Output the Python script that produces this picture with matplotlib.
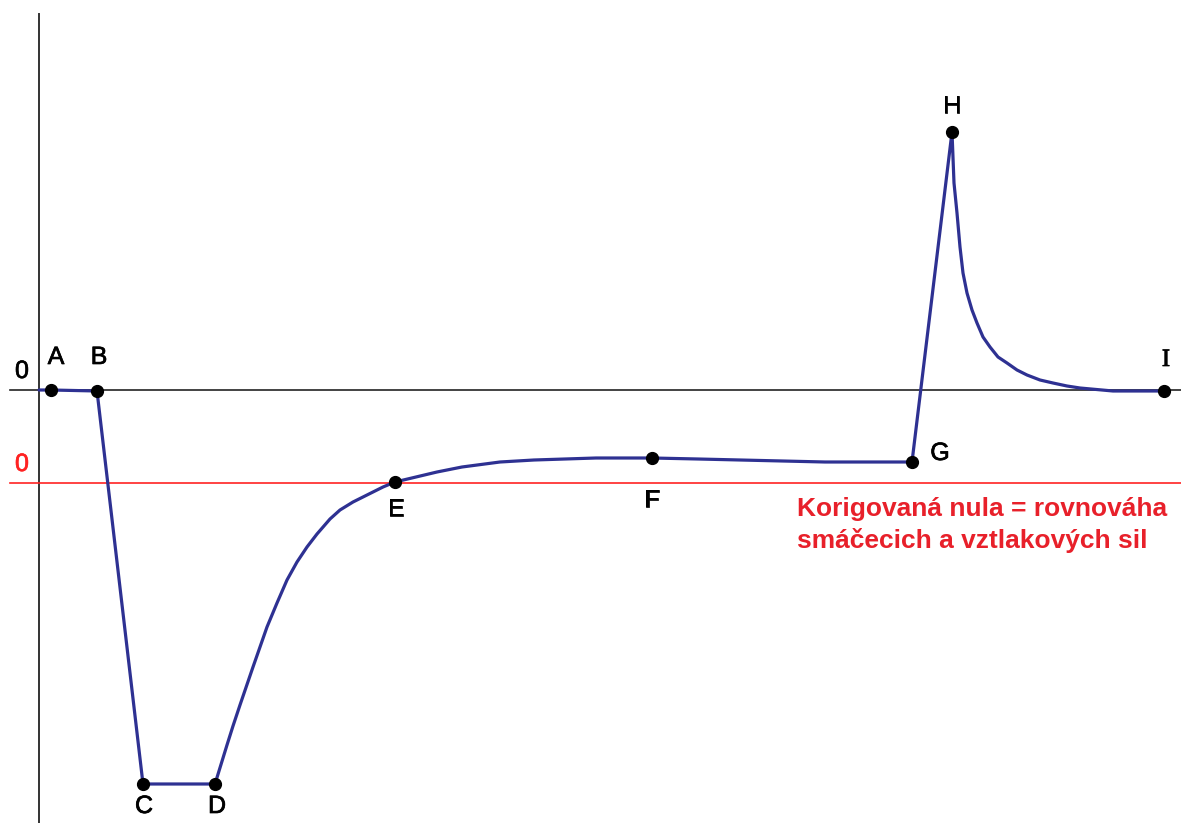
import matplotlib.pyplot as plt
import matplotlib.patheffects as pe

# curve (pixel-like units, y grows downward)
curve_x = [39, 51, 97, 143, 215, 227, 233, 240, 253, 260, 267, 277, 287, 297, 307,
           317, 330, 340, 353, 363, 373, 383, 395,
           416, 437, 462, 500, 534, 596, 652, 698, 825, 912,
           952, 954, 957, 960, 963, 967, 972, 977, 983, 990, 998, 1007, 1017,
           1027, 1040, 1053, 1067, 1080, 1113, 1164]
curve_y = [390, 390, 391, 784, 784, 745, 726, 705, 667, 647, 627, 603, 580, 562, 547,
           534, 519, 510, 502, 497, 492, 487, 482,
           477, 472, 467, 462, 460, 458, 458, 459, 462, 462,
           132, 183, 213, 247, 273, 293, 310, 323, 337, 347, 357, 363, 370,
           375, 380, 383, 386, 388, 391, 391]

point_names = ['A', 'B', 'C', 'D', 'E', 'F', 'G', 'H', 'I']
point_x = [51, 97, 143, 215, 395, 652, 912, 952, 1164]
point_y = [390, 391, 784, 784, 482, 458, 462, 132, 391]
label_x = [56, 99, 144, 217, 396, 652, 940, 952, 1166]
label_y = [357, 357, 806, 806, 509, 500, 453, 106, 360]

zero_y = 390
corrected_zero_y = 483
axis_x = 39

note = 'Korigovaná nula = rovnováha\nsmáčecich a vztlakových sil'

fig = plt.figure(figsize=(11.81, 8.23), dpi=100)
ax = fig.add_axes([0, 0, 1, 1])
ax.set_xlim(0, 1181)
ax.set_ylim(823, 0)
ax.axis('off')

ax.plot([axis_x, axis_x], [14, 823], color='#333333', linewidth=1.4)
ax.plot([10, 1181], [zero_y, zero_y], color='#222222', linewidth=1.2)
ax.plot([10, 1181], [corrected_zero_y, corrected_zero_y], color='#ff2222', linewidth=1.2)

ax.plot(curve_x, curve_y, color='#2e3192', linewidth=2.3,
        solid_joinstyle='round', solid_capstyle='round')
ax.plot(point_x, point_y, 'o', color='black', markersize=8.5, zorder=5)

thick = [pe.withStroke(linewidth=0.5, foreground='black')]
for name, lx, ly in zip(point_names, label_x, label_y):
    # the capital I in the original has serifs
    fam = 'Liberation Serif' if name == 'I' else 'Liberation Sans'
    ax.text(lx, ly, name, fontsize=18, family=fam,
            ha='center', va='center', color='black', path_effects=thick)

ax.text(22, 371, '0', fontsize=18, family='Liberation Sans',
        ha='center', va='center', color='black', path_effects=thick)
ax.text(22, 464, '0', fontsize=18, family='Liberation Sans',
        ha='center', va='center', color='#ff2222',
        path_effects=[pe.withStroke(linewidth=0.5, foreground='#ff2222')])

ax.text(797, 525, note, fontsize=19, family='Liberation Sans', fontweight='bold',
        ha='left', va='center', color='#e8202a', linespacing=1.35)

fig.savefig('out.png', dpi=100)
